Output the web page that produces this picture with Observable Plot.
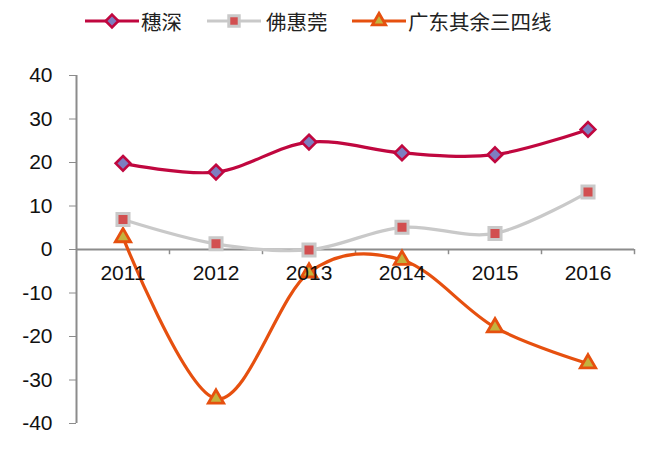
<!DOCTYPE html>
<html><head><meta charset="utf-8">
<script src="https://cdn.jsdelivr.net/npm/d3@7"></script>
<script src="https://cdn.jsdelivr.net/npm/@observablehq/plot@0.6"></script>
<style>
body{margin:0;background:#fff;width:652px;height:473px;overflow:hidden;font-family:"Liberation Sans",Arial,sans-serif}
#legend{position:relative;height:45px;width:652px}
.sample{position:absolute;top:10px}
.lab{position:absolute;top:7px;font-family:"Noto Sans CJK SC";font-size:20.5px;line-height:28px;color:#222;white-space:nowrap}
#chart svg{display:block}
</style></head><body>
<div id="legend"></div><div id="chart"></div>
<script>
const years = [2011, 2012, 2013, 2014, 2015, 2016];
const suishen = [19.8, 17.8, 24.7, 22.2, 21.8, 27.6];
const fohuiguan = [6.9, 1.3, -0.1, 5.1, 3.7, 13.2];
const others = [2.8, -34.3, -5.3, -2.4, -17.9, -26.2];
const seriesNames = ["穗深", "佛惠莞", "广东其余三四线"];
const yTicks = [-40, -30, -20, -10, 0, 10, 20, 30, 40];

const styles = [
  {line: "#c0073f", symbol: "diamond2", r: 6.6, fill: "#7d7ec0", stroke: "#c0073f", sw: 2.6},
  {line: "#c9c9c9", symbol: "square", r: 6.8, fill: "#d24f50", stroke: "#c9c9c9", sw: 3},
  {line: "#e6500f", symbol: "triangle", r: 5.7, fill: "#c4b23e", stroke: "#e6500f", sw: 2.8}
];
const seriesValues = [suishen, fohuiguan, others];

// legend
const legend = d3.select("#legend");
const legendPos = [{s: 84, t: 141}, {s: 206, t: 266}, {s: 351, t: 408}];
seriesNames.forEach((name, i) => {
  const st = styles[i];
  const svg = legend.append("svg").attr("class", "sample")
    .style("left", legendPos[i].s + "px").attr("width", 56).attr("height", 22);
  svg.append("line").attr("x1", 1).attr("x2", 55).attr("y1", 11).attr("y2", 11)
    .attr("stroke", st.line).attr("stroke-width", 3);
  svg.append("path").attr("transform", "translate(28,11)")
    .attr("d", d3.symbol(st.symbol === "diamond2" ? d3.symbolDiamond2 : st.symbol === "square" ? d3.symbolSquare : d3.symbolTriangle, Math.PI * st.r * st.r * 0.75)())
    .attr("fill", st.fill).attr("stroke", st.stroke).attr("stroke-width", st.sw);
  legend.append("div").attr("class", "lab").style("left", legendPos[i].t + "px").text(name);
});

const data = [];
seriesNames.forEach((name, i) => years.forEach((yr, j) => data.push({series: name, idx: i, year: yr, v: seriesValues[i][j]})));
const byIdx = i => data.filter(d => d.idx === i);

const marks = [
  Plot.ruleX([years[0] - 0.5], {y1: -40, y2: 40, stroke: "#8c8c8c", strokeWidth: 2}),
  Plot.ruleY([0], {x1: years[0] - 0.5, x2: years[years.length - 1] + 0.5, stroke: "#8c8c8c", strokeWidth: 2}),
  Plot.ruleX(years.map(y => y + 0.5), {y1: 0, y2: -1.2, stroke: "#8c8c8c", strokeWidth: 1.5}),
  Plot.axisY({ticks: yTicks, tickSize: 7, tickPadding: 17, fontSize: 21, stroke: "#8c8c8c", fill: "#111", label: null, tickFormat: d => String(d)})
];
[2, 1, 0].forEach(i => {
  const st = styles[i];
  marks.push(Plot.line(byIdx(i), {x: "year", y: "v", stroke: st.line, strokeWidth: 3.2, curve: "cardinal"}));
  marks.push(Plot.dot(byIdx(i), {x: "year", y: "v", symbol: st.symbol, r: st.r, fill: st.fill, stroke: st.stroke, strokeWidth: st.sw}));
});
marks.push(Plot.text(years, {x: d => d, y: 0, dy: 24, text: d => String(d), fontSize: 21, fill: "#111"}));

const chart = Plot.plot({
  width: 652,
  height: 428,
  marginTop: 30,
  marginBottom: 50,
  marginLeft: 76,
  marginRight: 18,
  style: {fontFamily: "'Liberation Sans', Arial, sans-serif", background: "#fff"},
  x: {domain: [years[0] - 0.5, years[years.length - 1] + 0.5], axis: null},
  y: {domain: [-40, 40], axis: null},
  marks
});
document.getElementById("chart").appendChild(chart);
</script>
</body></html>
